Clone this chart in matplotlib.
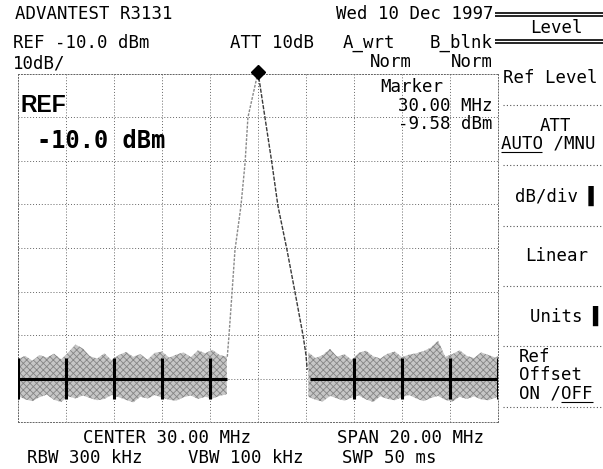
import matplotlib
matplotlib.use("Agg")
import matplotlib.pyplot as plt
import numpy as np

# --- screen values (dBm / MHz) ---
ref_level = -10.0
db_div = 10
center_mhz = 30.0
span_mhz = 20.0
marker_mhz = 30.00
marker_dbm = -9.58
noise_line_dbm = -80.0

# noise floor, left of the carrier
noise_l_f = [20.0, 20.3, 20.6, 20.9, 21.2, 21.5, 21.8, 22.1, 22.4, 22.7,
             23.0, 23.3, 23.6, 23.9, 24.2, 24.5, 24.8, 25.1, 25.4, 25.7,
             26.0, 26.3, 26.6, 26.9, 27.2, 27.5, 27.8, 28.1, 28.4, 28.7]
noise_l_hi = [-75.5, -74.8, -75.9, -74.6, -75.2, -74.3, -75.6, -74.0, -72.2, -73.1,
              -74.9, -75.4, -74.2, -75.8, -74.6, -73.9, -75.0, -74.4, -75.7, -74.1,
              -73.8, -75.2, -74.5, -74.0, -75.1, -73.5, -74.2, -73.4, -74.6, -75.0]
noise_l_lo = [-84.0, -84.8, -85.2, -84.3, -83.7, -84.9, -85.4, -84.1, -84.6, -83.9,
              -84.5, -85.0, -84.7, -83.8, -84.3, -84.9, -85.5, -84.2, -84.6, -83.8,
              -84.4, -84.9, -85.1, -84.3, -83.9, -84.7, -84.2, -84.6, -84.0, -83.6]

# noise floor, right of the carrier
noise_r_f = [32.1, 32.4, 32.7, 33.0, 33.3, 33.6, 33.9, 34.2, 34.5, 34.8,
             35.1, 35.4, 35.7, 36.0, 36.3, 36.6, 36.9, 37.2, 37.5, 37.8,
             38.1, 38.4, 38.7, 39.0, 39.3, 39.6, 39.9, 40.0]
noise_r_hi = [-74.0, -75.3, -74.6, -73.2, -75.0, -74.4, -75.7, -74.1, -73.6, -74.9,
              -75.4, -74.3, -73.8, -75.1, -74.5, -74.2, -73.7, -72.9, -71.3, -75.0,
              -74.4, -73.5, -74.8, -75.3, -74.0, -74.6, -75.2, -74.8]
noise_r_lo = [-84.2, -84.9, -85.3, -84.0, -84.6, -85.1, -84.4, -83.9, -84.8, -85.4,
              -84.1, -84.7, -85.0, -84.3, -83.8, -84.6, -85.2, -84.5, -84.0, -84.9,
              -85.3, -84.2, -84.7, -84.1, -84.8, -85.0, -84.4, -84.1]

# carrier skirts
peak_l_f = [28.72, 28.79, 28.92, 29.04, 29.29, 29.46, 29.58, 30.0]
peak_l_db = [-75.0, -70.2, -60.1, -50.5, -40.3, -30.5, -20.0, -9.58]
peak_r_f = [30.0, 30.29, 30.58, 30.83, 31.21, 31.54, 31.88, 32.0, 32.05]
peak_r_db = [-9.58, -20.0, -30.5, -40.3, -50.5, -60.1, -70.2, -74.6, -78.0]

tick_l = [20, 22, 24, 26, 28]
tick_r = [34, 36, 38, 40]

W, H = 603, 469
mono = "DejaVu Sans Mono"
plt.rcParams["hatch.linewidth"] = 0.6

fig = plt.figure(figsize=(W / 100, H / 100), dpi=100)
fig.patch.set_facecolor("white")

# graticule
ax = fig.add_axes([18 / W, 1 - 422 / H, 480 / W, 348 / H])
f0 = center_mhz - span_mhz / 2
f1 = center_mhz + span_mhz / 2
ax.set_xlim(f0, f1)
ax.set_ylim(ref_level - 8 * db_div, ref_level)
ax.set_xticks(np.linspace(f0, f1, 11))
ax.set_yticks(np.linspace(ref_level - 8 * db_div, ref_level, 9))
ax.tick_params(length=0, labelbottom=False, labelleft=False)
ax.grid(True, ls=(0, (1, 2)), lw=0.7, color="#666666")
for s in ax.spines.values():
    s.set_linestyle((0, (1, 2)))
    s.set_linewidth(0.7)
    s.set_color("#666666")

# noise (grey dithered band)
for ff, hi, lo in [(noise_l_f, noise_l_hi, noise_l_lo), (noise_r_f, noise_r_hi, noise_r_lo)]:
    ax.fill_between(ff, lo, hi, facecolor="#c6c6c6", edgecolor="#858585",
                    hatch="xxxxx", linewidth=0, zorder=2)

# dark reference line with div ticks
ax.hlines(noise_line_dbm, f0, 28.7, color="black", lw=2.2, zorder=3)
ax.hlines(noise_line_dbm, 32.17, f1, color="black", lw=2.2, zorder=3)
ax.vlines(tick_l + tick_r, -75.3, -84.6, color="black", lw=2.2, zorder=3)

# carrier
ax.plot(peak_l_f, peak_l_db, color="#8a8a8a", lw=1.0, ls=(0, (2, 1)), zorder=4)
ax.plot(peak_r_f, peak_r_db, color="#3a3a3a", lw=1.0, ls=(0, (3, 1)), zorder=4)
ax.plot([marker_mhz], [marker_dbm], marker="D", color="black", ms=7, zorder=5, clip_on=False)

# overlay in pixel coords for the screen annotations
ov = fig.add_axes([0, 0, 1, 1])
ov.set_xlim(0, W)
ov.set_ylim(H, 0)
ov.axis("off")

fs = 12.5
def t(x, y, s, ha="left", **kw):
    kw.setdefault("fontsize", fs)
    kw.setdefault("family", mono)
    ov.text(x, y, s, ha=ha, va="center", color="black", **kw)

t(15, 14, "ADVANTEST R3131")
t(493, 14, "Wed 10 Dec 1997", ha="right")
t(13, 43, "REF -10.0 dBm")
t(230, 43, "ATT 10dB")
t(343, 43, "A_wrt")
t(493, 43, "B_blnk", ha="right")
t(13, 64, "10dB/")
t(370, 62, "Norm")
t(493, 62, "Norm", ha="right")
t(380, 87, "Marker")
t(493, 106, "%.2f MHz" % marker_mhz, ha="right")
t(493, 124, "%.2f dBm" % marker_dbm, ha="right")

t(20, 106, "REF", fontsize=16.5, family="Liberation Sans", weight="bold")
t(37, 141, "-10.0 dBm", fontsize=17, weight="bold")

t(83, 438, "CENTER %.2f MHz" % center_mhz)
t(337, 438, "SPAN %.2f MHz" % span_mhz)
t(27, 458, "RBW 300 kHz")
t(188, 458, "VBW 100 kHz")
t(342, 458, "SWP 50 ms")

# soft key menu
ov.hlines([13, 16, 40, 43], 495, W, color="black", lw=1.2)
t(530, 28, "Level")
t(503, 78, "Ref Level")
t(540, 126, "ATT")
t(501, 144, "AUTO /MNU")
ov.hlines(152, 501, 542, color="black", lw=0.8)
t(515, 196, "dB/div \u258c")
t(525, 256, "Linear")
t(530, 316, "Units \u258c")
t(519, 357, "Ref")
t(519, 375, "Offset")
t(519, 393, "ON /OFF")
ov.hlines(402, 561, 593, color="black", lw=0.8)
ov.hlines([105, 165, 226, 286, 346, 407], 503, W, color="#555555",
          lw=0.8, ls=(0, (1, 2)))

fig.savefig("out.png", dpi=100)
